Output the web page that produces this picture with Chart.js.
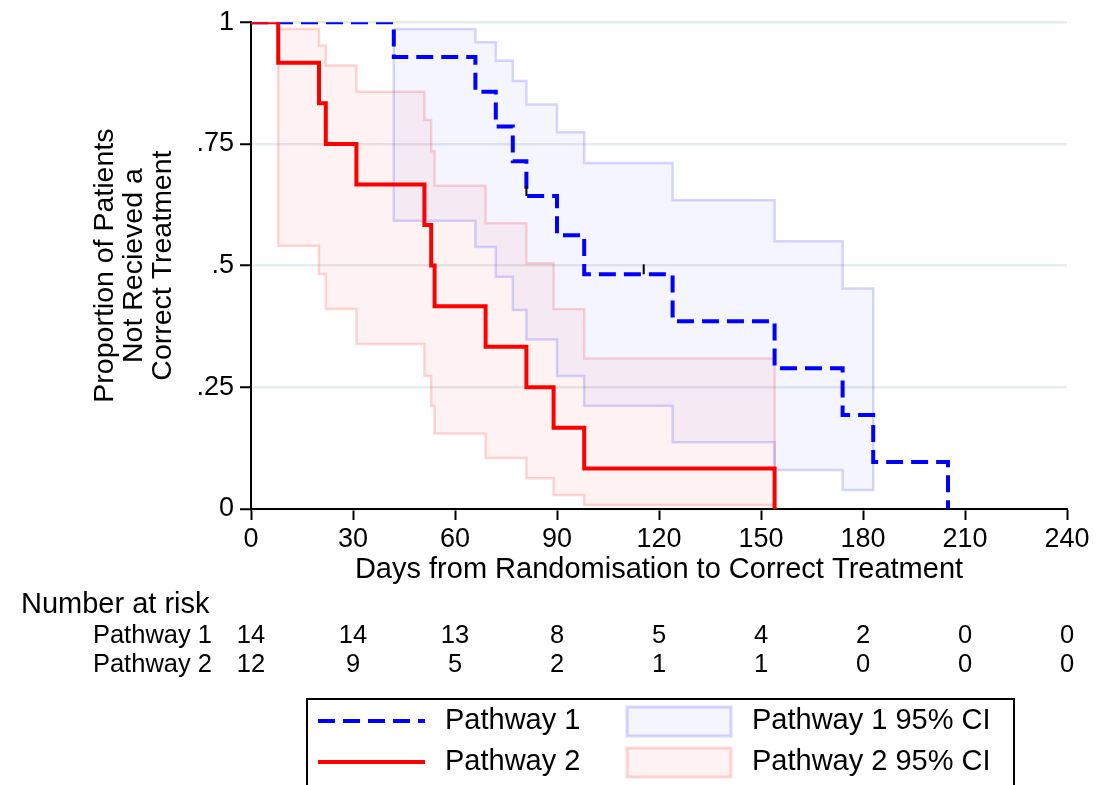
<!DOCTYPE html>
<html>
<head>
<meta charset="utf-8">
<title>Kaplan-Meier: Pathway 1 vs Pathway 2</title>
<script src="https://cdn.jsdelivr.net/npm/chart.js@4.4.1/dist/chart.umd.min.js"></script>
<style>
    html, body { margin: 0; padding: 0; background: #fff; }
    canvas { display: block; }
</style>
</head>
<body>
<canvas id="kmChart" width="1117" height="785"></canvas>
<script>
// 坐标轴刻度
const xTickValues = [0, 30, 60, 90, 120, 150, 180, 210, 240];
const yTickValues = [0, 0.25, 0.5, 0.75, 1];
const yTickLabels = ['0', '.25', '.5', '.75', '1'];

// 生存曲线 (Kaplan-Meier 估计)
const p1Days = [0, 42, 66, 72, 77, 81, 90, 98, 124, 154, 174, 183, 205];
const p1Surv = [1, 0.9286, 0.8571, 0.7857, 0.7143, 0.6429, 0.5625, 0.4821, 0.3857, 0.2893, 0.1929, 0.0964, 0];
const p2Days = [0, 8, 20, 22, 31, 51, 53, 54, 69, 81, 89, 98, 154];
const p2Surv = [1, 0.9167, 0.8333, 0.75, 0.6667, 0.5833, 0.5, 0.4167, 0.3333, 0.25, 0.1667, 0.0833, 0];

// 删失标记
const p1CensorDays = [81, 115.5];
const p1CensorSurv = [0.6429, 0.4821];

// 95% 置信区间
const p1CiDays = [42, 66, 72, 77, 81, 90, 98, 124, 154, 174];
const p1CiEnd = 183;
const p1CiUpper = [0.986, 0.959, 0.921, 0.879, 0.831, 0.774, 0.711, 0.634, 0.550, 0.453];
const p1CiLower = [0.592, 0.538, 0.477, 0.409, 0.348, 0.273, 0.212, 0.137, 0.080, 0.039];
const p2CiDays = [8, 20, 22, 31, 51, 53, 54, 69, 81, 89, 98];
const p2CiEnd = 154;
const p2CiUpper = [0.986, 0.952, 0.911, 0.857, 0.799, 0.735, 0.664, 0.587, 0.505, 0.411, 0.309];
const p2CiLower = [0.541, 0.483, 0.411, 0.339, 0.273, 0.212, 0.155, 0.105, 0.063, 0.029, 0.008];

// 风险人数表
const riskTimes = [0, 30, 60, 90, 120, 150, 180, 210, 240];
const riskP1 = [14, 14, 13, 8, 5, 4, 2, 0, 0];
const riskP2 = [12, 9, 5, 2, 1, 1, 0, 0, 0];

const seriesNames = ['Pathway 1', 'Pathway 2'];
const ciNames = ['Pathway 1 95% CI', 'Pathway 2 95% CI'];

const FONT = '"Liberation Sans", Arial, sans-serif';
const font = (size) => size + 'px ' + FONT;

const lineColors = ['#0000ff', '#ff0000'];
const lineDashes = [[17, 8], []];
const bandFills = ['rgba(0, 0, 255, 0.04)', 'rgba(255, 0, 0, 0.05)'];
const bandBorders = ['rgba(0, 0, 255, 0.16)', 'rgba(255, 0, 0, 0.16)'];

function stepPoints(days, values) {
    return days.map((d, i) => ({ x: d, y: values[i] }));
}

// 置信带: 上界向右, 下界向左, 闭合成一个多边形
function bandPoints(days, upper, lower, endDay) {
    const pts = days.map((d, i) => ({ x: d, y: upper[i] }));
    const last = days.length - 1;
    pts.push({ x: endDay, y: upper[last] });
    pts.push({ x: endDay, y: lower[last] });
    for (let i = last; i >= 1; i--) {
        pts.push({ x: days[i], y: lower[i - 1] });
    }
    pts.push({ x: days[0], y: lower[0] });
    pts.push({ x: days[0], y: upper[0] });
    return pts;
}

const censorPlugin = {
    id: 'censorTicks',
    afterDatasetsDraw(chart) {
        const { ctx, scales: { x, y } } = chart;
        ctx.save();
        ctx.strokeStyle = '#000';
        ctx.lineWidth = 2;
        p1CensorDays.forEach((d, i) => {
            const px = x.getPixelForValue(d);
            const py = y.getPixelForValue(p1CensorSurv[i]);
            ctx.beginPath();
            ctx.moveTo(px, py);
            ctx.lineTo(px, py - 10);
            ctx.stroke();
        });
        ctx.restore();
    }
};

const riskTablePlugin = {
    id: 'riskTable',
    afterDraw(chart) {
        const { ctx, scales: { x } } = chart;
        ctx.save();
        ctx.fillStyle = '#000';
        ctx.textBaseline = 'middle';
        ctx.textAlign = 'left';
        ctx.font = font(29);
        ctx.fillText('Number at risk', 21, 605);
        ctx.font = font(25.5);
        [riskP1, riskP2].forEach((row, r) => {
            const y = 636 + r * 29;
            ctx.textAlign = 'right';
            ctx.fillText(seriesNames[r], 212, y);
            ctx.textAlign = 'center';
            row.forEach((n, i) => {
                ctx.fillText(String(n), x.getPixelForValue(riskTimes[i]), y);
            });
        });
        ctx.restore();
    }
};

const legendPlugin = {
    id: 'kmLegend',
    afterDraw(chart) {
        const ctx = chart.ctx;
        ctx.save();
        ctx.strokeStyle = '#000';
        ctx.lineWidth = 2;
        ctx.strokeRect(307, 699, 707, 120);
        [721, 762].forEach((y, i) => {
            ctx.beginPath();
            ctx.setLineDash(lineDashes[i]);
            ctx.strokeStyle = lineColors[i];
            ctx.lineWidth = 4;
            ctx.moveTo(318, y);
            ctx.lineTo(425, y);
            ctx.stroke();
            ctx.setLineDash([]);

            ctx.fillStyle = '#fff';
            ctx.fillRect(627, y - 14, 104, 29);
            ctx.fillStyle = bandFills[i];
            ctx.fillRect(627, y - 14, 104, 29);
            ctx.strokeStyle = bandBorders[i];
            ctx.lineWidth = 3;
            ctx.strokeRect(627, y - 14, 104, 29);

            ctx.fillStyle = '#000';
            ctx.font = font(29);
            ctx.textAlign = 'left';
            ctx.textBaseline = 'middle';
            ctx.fillText(seriesNames[i], 445, y);
            ctx.fillText(ciNames[i], 752, y);
        });
        ctx.restore();
    }
};

const ctx = document.getElementById('kmChart').getContext('2d');
new Chart(ctx, {
    type: 'line',
    data: {
        datasets: [
            {
                label: seriesNames[1],
                data: stepPoints(p2Days, p2Surv),
                stepped: true,
                borderColor: lineColors[1],
                borderWidth: 4,
                pointRadius: 0,
                fill: false,
                order: 0
            },
            {
                label: seriesNames[0],
                data: stepPoints(p1Days, p1Surv),
                stepped: true,
                borderColor: lineColors[0],
                borderWidth: 4,
                borderDash: lineDashes[0],
                pointRadius: 0,
                fill: false,
                order: 1
            },
            {
                label: ciNames[0],
                data: bandPoints(p1CiDays, p1CiUpper, p1CiLower, p1CiEnd),
                stepped: true,
                borderColor: bandBorders[0],
                backgroundColor: bandFills[0],
                borderWidth: 2.5,
                pointRadius: 0,
                fill: 'shape',
                order: 2
            },
            {
                label: ciNames[1],
                data: bandPoints(p2CiDays, p2CiUpper, p2CiLower, p2CiEnd),
                stepped: true,
                borderColor: bandBorders[1],
                backgroundColor: bandFills[1],
                borderWidth: 2.5,
                pointRadius: 0,
                fill: 'shape',
                order: 3
            }
        ]
    },
    options: {
        responsive: false,
        animation: false,
        layout: { padding: { left: 0, top: 18, right: 50, bottom: 196 } },
        plugins: {
            legend: { display: false },
            tooltip: { enabled: false }
        },
        scales: {
            x: {
                type: 'linear',
                min: 0,
                max: 240,
                afterBuildTicks: (scale) => { scale.ticks = xTickValues.map(v => ({ value: v })); },
                afterFit: (scale) => { scale.height = 80; },
                grid: {
                    drawOnChartArea: false,
                    drawTicks: true,
                    tickLength: 11,
                    tickWidth: 2,
                    tickColor: '#000'
                },
                border: { display: true, color: '#000', width: 2 },
                ticks: {
                    font: { family: FONT, size: 27 },
                    color: '#000',
                    padding: 3,
                    maxRotation: 0,
                    callback: (v) => String(v)
                },
                title: {
                    display: true,
                    text: 'Days from Randomisation to Correct Treatment',
                    font: { family: FONT, size: 29 },
                    color: '#000',
                    padding: { top: 0, bottom: 2 }
                }
            },
            y: {
                type: 'linear',
                min: 0,
                max: 1,
                afterBuildTicks: (scale) => { scale.ticks = yTickValues.map(v => ({ value: v })); },
                afterFit: (scale) => { scale.width = 251; },
                grid: {
                    color: '#e5edee',
                    lineWidth: 2.5,
                    drawTicks: true,
                    tickLength: 11,
                    tickWidth: 2,
                    tickColor: '#000'
                },
                border: { display: true, color: '#000', width: 2 },
                ticks: {
                    font: { family: FONT, size: 27 },
                    color: '#000',
                    padding: 6,
                    callback: (v) => yTickLabels[yTickValues.indexOf(v)]
                },
                title: {
                    display: true,
                    text: ['Proportion of Patients', 'Not Recieved a', 'Correct Treatment'],
                    font: { family: FONT, size: 28.5, lineHeight: 1.03 },
                    color: '#000',
                    padding: { top: 90, bottom: 0 }
                }
            }
        }
    },
    plugins: [censorPlugin, riskTablePlugin, legendPlugin]
});
</script>
</body>
</html>
